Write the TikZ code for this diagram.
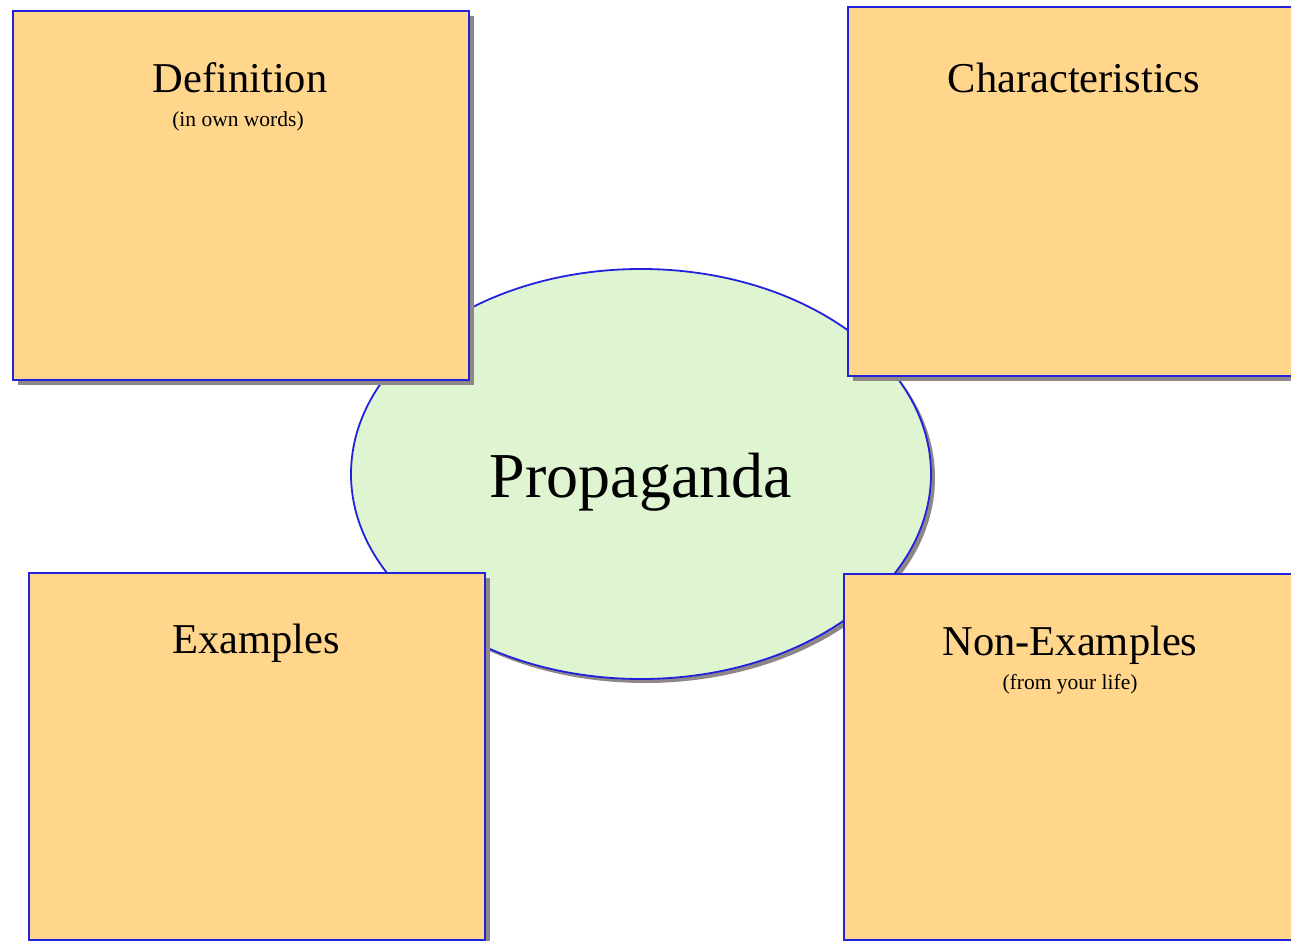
\documentclass[tikz,border=0pt]{standalone}
\usepackage{fontspec}
\setmainfont{Liberation Serif}
\usetikzlibrary{shadows}
\definecolor{boxfill}{HTML}{FFD68C}
\definecolor{ellfill}{HTML}{DFF4D0}
\definecolor{edge}{HTML}{2222DD}
\definecolor{shadowgray}{HTML}{8F8787}
\tikzset{
  box/.style={draw=edge, line width=2pt, fill=boxfill, rectangle, anchor=north west, inner sep=0pt,
    drop shadow={shadow xshift=5pt, shadow yshift=-5pt, fill=shadowgray, opacity=1}},
  hub/.style={draw=edge, line width=1.8pt, fill=ellfill, ellipse, inner sep=0pt,
    drop shadow={shadow xshift=4pt, shadow yshift=-4pt, fill=shadowgray, opacity=1}},
  title/.style={anchor=base, inner sep=0pt, font=\fontsize{42.5}{42.5}\selectfont},
  sub/.style={anchor=base, inner sep=0pt, font=\fontsize{21.5}{21.5}\selectfont},
  big/.style={anchor=base, inner sep=0pt, font=\fontsize{64}{64}\selectfont}
}
\usetikzlibrary{shapes.geometric}
\begin{document}
\begin{tikzpicture}[x=1pt,y=-1pt]
\useasboundingbox (0,0) rectangle (1291,941);
\node[hub, minimum width=580pt, minimum height=410pt] (hub) at (641,474) {};
\node[box, minimum width=456pt, minimum height=369pt] (def) at (12,10) {};
\node[box, minimum width=460pt, minimum height=369pt] (cha) at (847,6) {};
\node[box, minimum width=456pt, minimum height=367pt] (exa) at (28,572) {};
\node[box, minimum width=460pt, minimum height=366pt] (non) at (843,573) {};
\node[big] (hubt) at (641,497) {Propaganda};
\node[title] (deft) at (240,93) {Definition};
\node[sub] (defs) at (238,127) {(in own words)};
\node[title] (chat) at (1074,93) {Characteristics};
\node[title] (exat) at (256,653) {Examples};
\node[title] (nont) at (1070,655) {Non-Examples};
\node[sub] (nons) at (1070,689) {(from your life)};
\end{tikzpicture}
\end{document}
